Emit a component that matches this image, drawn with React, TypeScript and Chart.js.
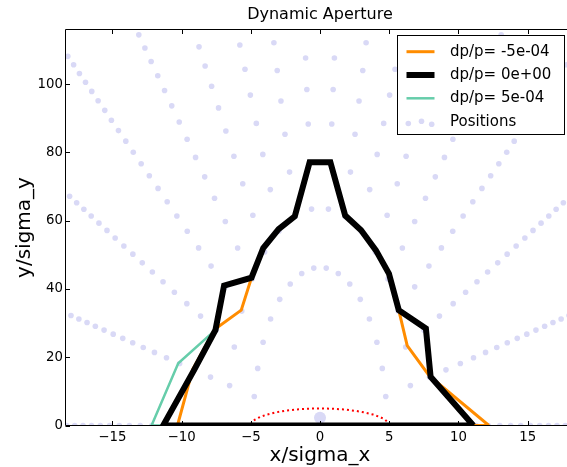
import { useEffect, useRef } from 'react';
import { Chart, registerables } from 'chart.js';

Chart.register(...registerables);

const FONT = '"DejaVu Sans", "Liberation Sans", sans-serif';
const CANVAS_W = 580;
const CANVAS_H = 467;

const titleText = 'Dynamic Aperture';
const xLabel = 'x/sigma_x';
const yLabel = 'y/sigma_y';
const seriesLabels = ['dp/p= -5e-04', 'dp/p= 0e+00', 'dp/p= 5e-04', 'Positions'];

const xRange = [-18.35, 18.35];
const yRange = [0, 116];
const xStep = 5;
const yStep = 20;

// Aperture boundaries (x/sigma_x, y/sigma_y)
const apXm5 = [12.2, 7.9, 6.3, 5.69, 4.98, 4.04, 2.97, 1.82, 0.75, -0.75, -1.82, -2.99, -4.1, -4.95, -5.69, -7.6, -9.2, -10.3, 12.2];
const apYm5 = [0, 14.5, 23.4, 33.8, 44.5, 51.3, 57.2, 61.5, 77.1, 77.1, 61.3, 57.5, 52.0, 43.3, 33.8, 28.2, 16.4, 0, 0];

const apX0 = [11.08, 7.99, 7.65, 5.69, 4.98, 4.04, 2.97, 1.82, 0.75, -0.75, -1.82, -2.99, -4.1, -4.95, -6.93, -7.55, -9.1, -11.33, 11.08];
const apY0 = [0, 14.3, 28.4, 33.8, 44.5, 51.3, 57.2, 61.5, 77.1, 77.1, 61.3, 57.5, 52.0, 43.3, 41.0, 28.0, 16.2, 0, 0];

const apXp5 = [11.08, 7.99, 7.65, 5.69, 4.98, 4.04, 2.97, 1.82, 0.75, -0.75, -1.82, -2.99, -4.1, -4.95, -6.93, -7.55, -10.24, -12.17, 11.08];
const apYp5 = [0, 14.3, 28.4, 33.8, 44.5, 51.3, 57.2, 61.5, 77.1, 77.1, 61.3, 57.5, 52.0, 43.3, 41.0, 28.0, 18.2, 0, 0];

// Red dotted reference circle (radius 5 sigma)
const circX = [5, 4.92, 4.7, 4.33, 3.83, 3.21, 2.5, 1.71, 0.87, 0, -0.87, -1.71, -2.5, -3.21, -3.83, -4.33, -4.7, -4.92, -5];
const circY = [0, 0.87, 1.71, 2.5, 3.21, 3.83, 4.33, 4.7, 4.92, 5, 4.92, 4.7, 4.33, 3.83, 3.21, 2.5, 1.71, 0.87, 0];

// Tracked initial positions, one list per ray (right half, then mirrored left half)
const posXRight = [
  [4.83, 6.64, 8.05, 9.25, 10.31, 11.28, 12.16, 12.99, 13.77, 14.5, 15.2, 15.87, 16.51, 17.12, 17.72, 18.3],
  [4.75, 6.53, 7.91, 9.1, 10.14, 11.09, 11.96, 12.77, 13.53, 14.25, 14.94, 15.6, 16.23, 16.83, 17.42, 17.99],
  [4.5, 6.19, 7.51, 8.63, 9.62, 10.52, 11.34, 12.11, 12.84, 13.52, 14.17, 14.8, 15.39, 15.97, 16.53, 17.06, 17.58, 18.09],
  [4.11, 5.65, 6.84, 7.87, 8.77, 9.59, 10.34, 11.04, 11.7, 12.33, 12.92, 13.49, 14.03, 14.56, 15.07, 15.55, 16.03, 16.49, 16.94, 17.38, 17.8, 18.22],
  [3.57, 4.91, 5.95, 6.84, 7.62, 8.33, 8.99, 9.6, 10.17, 10.71, 11.23, 11.72, 12.2, 12.65, 13.09],
  [2.91, 4.0, 4.85, 5.58, 6.22, 6.8, 7.33, 7.83, 8.3, 8.74],
  [2.15, 2.96, 3.59, 4.13, 4.6, 5.03, 5.42, 5.79],
  [1.32, 1.82, 2.2, 2.53, 2.82, 3.09, 3.33],
  [0.45, 0.61, 0.74, 0.85, 0.95, 1.04],
];
const posXLeft = [
  [-4.83, -6.64, -8.05, -9.25, -10.31, -11.28, -12.16, -12.99, -13.77, -14.5, -15.2, -15.87, -16.51, -17.12, -17.72, -18.3],
  [-4.75, -6.53, -7.91, -9.1, -10.14, -11.09, -11.96, -12.77, -13.53, -14.25, -14.94, -15.6, -16.23, -16.83, -17.42, -17.99],
  [-4.5, -6.19, -7.51, -8.63, -9.62, -10.52, -11.34, -12.11, -12.84, -13.52, -14.17, -14.8, -15.39, -15.97, -16.53, -17.06, -17.58, -18.09],
  [-4.11, -5.65, -6.84, -7.87, -8.77, -9.59, -10.34, -11.04, -11.7, -12.33, -12.92, -13.49, -14.03, -14.56, -15.07, -15.55, -16.03, -16.49, -16.94, -17.38, -17.8, -18.22],
  [-3.57, -4.91, -5.95, -6.84, -7.62, -8.33, -8.99, -9.6, -10.17, -10.71, -11.23, -11.72, -12.2, -12.65, -13.09],
  [-2.91, -4.0, -4.85, -5.58, -6.22, -6.8, -7.33, -7.83, -8.3, -8.74],
  [-2.15, -2.96, -3.59, -4.13, -4.6, -5.03, -5.42, -5.79],
  [-1.32, -1.82, -2.2, -2.53, -2.82, -3.09, -3.33],
  [-0.45, -0.61, -0.74, -0.85, -0.95, -1.04],
];
const posYRays = [
  [0, 0, 0, 0, 0, 0, 0, 0, 0, 0, 0, 0, 0, 0, 0, 0],
  [8.51, 11.69, 14.18, 16.3, 18.16, 19.86, 21.42, 22.87, 24.24, 25.53, 26.76, 27.94, 29.07, 30.15, 31.2, 32.22],
  [16.72, 22.99, 27.87, 32.04, 35.7, 39.04, 42.1, 44.96, 47.65, 50.19, 52.6, 54.93, 57.15, 59.27, 61.35, 63.34, 65.27, 67.15],
  [24.37, 33.51, 40.62, 46.69, 52.03, 56.9, 61.36, 65.53, 69.45, 73.16, 76.67, 80.06, 83.3, 86.39, 89.41, 92.31, 95.14, 97.87, 100.55, 103.13, 105.67, 108.13],
  [31.19, 42.89, 51.99, 59.76, 66.59, 72.83, 78.54, 83.87, 88.89, 93.63, 98.12, 102.46, 106.61, 110.57, 114.44],
  [36.95, 50.81, 61.6, 70.8, 78.89, 86.28, 93.04, 99.36, 105.31, 110.92],
  [41.45, 56.99, 69.1, 79.42, 88.5, 96.79, 104.37, 111.46],
  [44.53, 61.23, 74.23, 85.32, 95.07, 103.98, 112.13],
  [46.1, 63.39, 76.85, 88.33, 98.42, 107.64],
];
const originX = [0];
const originY = [2.3];

const COLORS = {
  m5: '#ff8c00',
  zero: '#000000',
  p5: '#66cdaa',
  pos: '#d9d9f6',
  circ: '#ff0000',
};

const fmtTick = (v: number) => (v < 0 ? '\u2212' + Math.abs(v) : String(v));

function toPts(xs: number[], ys: number[]) {
  return xs.map((x, i) => ({ x, y: ys[i] }));
}

export default function App() {
  const ref = useRef<HTMLCanvasElement>(null);

  useEffect(() => {
    const canvas = ref.current;
    if (!canvas) return;

    const posPts: { x: number; y: number }[] = [];
    const posRadius: number[] = [];
    posXRight.forEach((ray, j) => ray.forEach((x, n) => { posPts.push({ x, y: posYRays[j][n] }); posRadius.push(2.8); }));
    posXLeft.forEach((ray, j) => ray.forEach((x, n) => { posPts.push({ x, y: posYRays[j][n] }); posRadius.push(2.8); }));
    originX.forEach((x, i) => { posPts.push({ x, y: originY[i] }); posRadius.push(6); });

    const deco = {
      id: 'deco',
      afterDraw(chart: any) {
        const ctx: CanvasRenderingContext2D = chart.ctx;
        const { left, right, top, bottom } = chart.chartArea;
        const xs = chart.scales.x;
        const ys = chart.scales.y;
        ctx.save();
        // frame
        ctx.strokeStyle = '#000';
        ctx.lineWidth = 1;
        const L = Math.round(left) - 0.5;
        ctx.beginPath();
        ctx.moveTo(L, top);
        ctx.lineTo(right, top);
        ctx.lineTo(right, bottom);
        ctx.lineTo(L, bottom);
        ctx.closePath();
        ctx.stroke();
        // inward ticks
        const tl = 4.5;
        ctx.beginPath();
        xs.ticks.forEach((t: any) => {
          const px = Math.round(xs.getPixelForValue(t.value)) + 0.5;
          ctx.moveTo(px, bottom);
          ctx.lineTo(px, bottom - tl);
          ctx.moveTo(px, top);
          ctx.lineTo(px, top + tl);
        });
        ys.ticks.forEach((t: any) => {
          const py = Math.round(ys.getPixelForValue(t.value)) + 0.5;
          ctx.moveTo(L, py);
          ctx.lineTo(L + tl, py);
          ctx.moveTo(right, py);
          ctx.lineTo(right - tl, py);
        });
        ctx.stroke();

        // title
        ctx.fillStyle = '#000';
        ctx.font = `16px ${FONT}`;
        ctx.textAlign = 'center';
        ctx.textBaseline = 'middle';
        ctx.fillText(titleText, (left + right) / 2, 15);

        // axis labels
        ctx.font = `20px ${FONT}`;
        ctx.fillText(xLabel, (left + right) / 2, 456);
        ctx.save();
        ctx.translate(25, (top + bottom) / 2);
        ctx.rotate(-Math.PI / 2);
        ctx.fillText(yLabel, 0, 0);
        ctx.restore();

        // legend
        const bx = 397.5, by = 35.5, bw = 167, bh = 99;
        ctx.fillStyle = '#fff';
        ctx.fillRect(bx, by, bw, bh);
        ctx.strokeStyle = '#000';
        ctx.lineWidth = 1;
        ctx.strokeRect(bx, by, bw, bh);
        const rows = [51.7, 75, 98.3, 121.7];
        const sample = [
          { c: COLORS.m5, w: 3 },
          { c: COLORS.zero, w: 6 },
          { c: COLORS.p5, w: 2.5 },
        ];
        sample.forEach((s, i) => {
          ctx.strokeStyle = s.c;
          ctx.lineWidth = s.w;
          ctx.beginPath();
          ctx.moveTo(406.5, rows[i]);
          ctx.lineTo(434.5, rows[i]);
          ctx.stroke();
        });
        ctx.fillStyle = COLORS.pos;
        [[408.3, 123.5], [421.5, 121.3], [431.7, 124.3]].forEach(([x, y]) => {
          ctx.beginPath();
          ctx.arc(x, y, 2.8, 0, Math.PI * 2);
          ctx.fill();
        });
        ctx.fillStyle = '#000';
        ctx.font = `15px ${FONT}`;
        ctx.textAlign = 'left';
        ctx.textBaseline = 'middle';
        seriesLabels.forEach((lab, i) => ctx.fillText(lab, 450, rows[i]));
        ctx.restore();
      },
    };

    const lineCommon = {
      showLine: true,
      pointRadius: 0,
      pointHoverRadius: 0,
      fill: false,
      borderJoinStyle: 'miter' as const,
      borderCapStyle: 'butt' as const,
      clip: 0,
    };

    const chart = new Chart(canvas, {
      type: 'scatter',
      data: {
        datasets: [
          { ...lineCommon, label: seriesLabels[0], data: toPts(apXm5, apYm5), borderColor: COLORS.m5, borderWidth: 3, order: 1 },
          { ...lineCommon, label: seriesLabels[1], data: toPts(apX0, apY0), borderColor: COLORS.zero, borderWidth: 6, order: 0 },
          { ...lineCommon, label: seriesLabels[2], data: toPts(apXp5, apYp5), borderColor: COLORS.p5, borderWidth: 2.5, order: 2 },
          {
            label: seriesLabels[3],
            data: posPts,
            showLine: false,
            pointRadius: posRadius,
            pointHoverRadius: posRadius,
            pointBackgroundColor: COLORS.pos,
            pointBorderWidth: 0,
            pointBorderColor: COLORS.pos,
            order: 4,
            clip: 0,
          },
          { ...lineCommon, label: 'circle', data: toPts(circX, circY), borderColor: COLORS.circ, borderWidth: 2, borderDash: [2, 3], order: 3 },
        ],
      },
      options: {
        responsive: false,
        animation: false,
        devicePixelRatio: 1,
        events: [],
        layout: { padding: { top: 29.5, right: 6, bottom: 0, left: 0 } },
        plugins: { legend: { display: false }, title: { display: false }, tooltip: { enabled: false } },
        scales: {
          x: {
            type: 'linear',
            position: 'bottom',
            min: xRange[0],
            max: xRange[1],
            grid: { display: false, drawTicks: false },
            border: { display: false },
            ticks: {
              stepSize: xStep,
              includeBounds: false,
              padding: 4,
              color: '#000',
              maxRotation: 0,
              autoSkip: false,
              font: { family: FONT, size: 13.3 },
              callback: (v: any) => fmtTick(Number(v)),
            },
            afterFit: (s: any) => { s.height = 41.5; },
          },
          y: {
            type: 'linear',
            position: 'left',
            min: yRange[0],
            max: yRange[1],
            grid: { display: false, drawTicks: false },
            border: { display: false },
            ticks: {
              stepSize: yStep,
              includeBounds: false,
              padding: 3,
              color: '#000',
              autoSkip: false,
              font: { family: FONT, size: 13.3 },
              callback: (v: any) => fmtTick(Number(v)),
            },
            afterFit: (s: any) => { s.width = 66; },
          },
        },
      } as any,
      plugins: [deco],
    });

    return () => chart.destroy();
  }, []);

  return (
    <div style={{ position: 'fixed', left: 0, top: 0, width: CANVAS_W, height: CANVAS_H, background: '#fff' }}>
      <canvas ref={ref} width={CANVAS_W} height={CANVAS_H} style={{ display: 'block', width: CANVAS_W, height: CANVAS_H }} />
    </div>
  );
}
